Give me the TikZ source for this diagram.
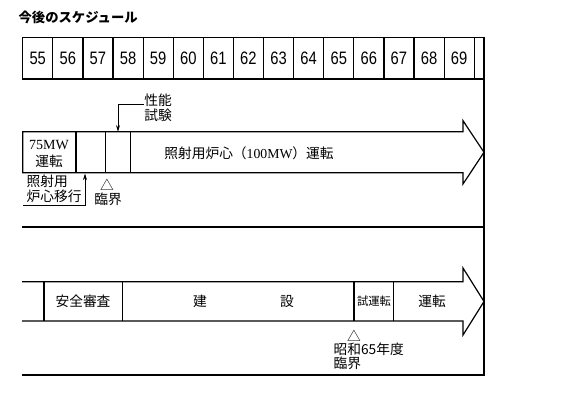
\documentclass[tikz,border=0pt]{standalone}
\usepackage{fontspec}
\setmainfont{Liberation Serif}
\newfontfamily\jp{Noto Sans CJK JP}
\newfontfamily\nm{Liberation Sans}
\usetikzlibrary{arrows.meta}

\begin{document}
\begin{tikzpicture}[x=0.75pt, y=-0.75pt, line width=0.9pt,
  every node/.style={inner sep=0pt, font=\jp\fontsize{10.3}{11.3}\selectfont},
  yr/.style={font=\nm\fontsize{13.5}{13.5}\selectfont},
  sml/.style={font=\jp\fontsize{8.5}{10}\selectfont},
  ptr/.style={-{Stealth[length=5pt,width=3pt]}, line width=0.6pt}]
  \useasboundingbox (0,0) rectangle (577,408);
  \node[anchor=west, font=\jp\bfseries\fontsize{10}{12}\selectfont] (title) at (18,17) {今後のスケジュール};
  % year row
  \draw (22.7,37.7) rectangle (484,79);
  \foreach \i [evaluate=\i as \x using 22.7+30.1*(\i-55)] in {55,...,69} {
    \draw (\x+30.1,37.7) -- (\x+30.1,79);
    \node[yr] (y\i) at (\x+15.05,58) {\scalebox{0.82}[1]{\i}};
  }
  % frame
  \draw (484,79) -- (484,375) -- (22,375);
  \draw (22,227) -- (484,227);

  % upper arrow
  \draw (22.7,131.7) -- (463,131.7) -- (463,120.7) -- (484,152.3) -- (463,184) -- (463,172.7) -- (22.7,172.7) -- cycle;
  \foreach \x in {76,105.7,130.5} \draw (\x,131.7) -- (\x,172.7);
  \node[font=\rmfamily\fontsize{10.5}{12}\selectfont] (mw) at (49,145) {75MW};
  \node (op1) at (49,161) {運転};
  \node (main) at (249,153) {照射用炉心（{\rmfamily 100MW}）運転};
  \node[align=center] (perf) at (158,107.5) {性能\\試験};
  \coordinate (perfpt) at (118,131.7);
  \draw[ptr] ([yshift=2pt]perf.west) -| (perfpt);
  \node[align=left, anchor=north west] (move) at (26,174) {照射用\\炉心移行};
  \coordinate (mvA) at (23,205.5);
  \coordinate (mvB) at (85,173.5);
  \draw[ptr] (mvA) -| (mvB);
  \node (tri1) at (107,185) {△};
  \node (crit1) at (108,199) {臨界};

  % lower arrow
  \draw (22,281.7) -- (463,281.7) -- (463,268) -- (484,301.5) -- (463,335) -- (463,321) -- (22,321);
  \foreach \x in {44,122.7,354,393.3} \draw (\x,281.7) -- (\x,321);
  \node (rev) at (83,301.5) {安全審査};
  \node (con1) at (200,301.5) {建};
  \node (con2) at (287,301.5) {設};
  \node[sml] (test) at (374,301.5) {試運転};
  \node (op2) at (432,301.5) {運転};
  \node (tri2) at (354,336) {△};
  \node[anchor=west] (yr65) at (333,349) {昭和65年度};
  \node[anchor=west] (crit2) at (333,363) {臨界};
\end{tikzpicture}
\end{document}
